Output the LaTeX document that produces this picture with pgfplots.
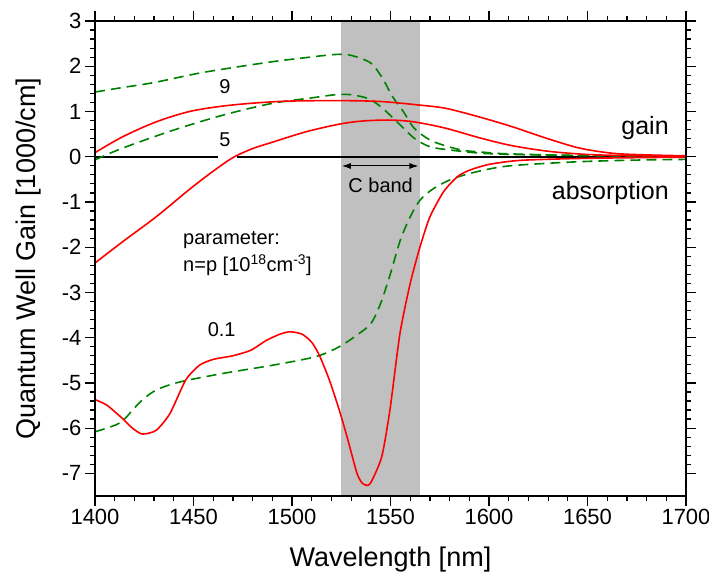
\documentclass[border=0pt]{standalone}
\usepackage{fontspec}
\setmainfont{Liberation Sans}
\usepackage{pgfplots}
\pgfplotsset{compat=1.18}
\usetikzlibrary{arrows.meta}
\definecolor{cband}{RGB}{192,192,192}
\definecolor{dgreen}{RGB}{0,128,0}
\newcommand\ann{\fontsize{20}{24}\selectfont}
\begin{document}
\begin{tikzpicture}
\begin{axis}[
 name=ax,
 scale only axis, width=591pt, height=475pt,
 xmin=1400, xmax=1700, ymin=-7.5, ymax=3,
 xtick={1400,1450,...,1700}, ytick={-7,-6,...,3},
 minor x tick num=4, minor y tick num=4,
 tick align=outside, tick pos=both,
 major tick length=10pt, minor tick length=5pt,
 tick style={black, line width=1.2pt},
 axis line style={line width=1.5pt},
 axis on top,
 /pgf/number format/assume math mode=true,
 /pgf/number format/1000 sep={},
 ticklabel style={font=\fontsize{22}{26}\selectfont},
 label style={font=\fontsize{27}{32}\selectfont},
 xlabel={Wavelength [nm]}, ylabel={Quantum Well Gain [1000/cm]},
 xlabel style={at={(axis description cs:0.5,-0.149)}, anchor=base},
 ylabel style={at={(axis description cs:-0.1015,0.5)}, anchor=base},
]
% C band shading
\addplot[draw=none, fill=cband] coordinates {(1525,-7.5) (1525,3) (1565,3) (1565,-7.5)} -- cycle;
% zero line
\addplot[black, line width=2pt] coordinates {(1400,0) (1700,0)};
% white gap behind the label 5
\addplot[draw=none, fill=white] coordinates {(1462.4,-0.06) (1462.4,0.06) (1472,0.06) (1472,-0.06)} -- cycle;
% arrow
\addplot[black, line width=1pt, {Latex[length=9pt,width=6pt]}-{Latex[length=9pt,width=6pt]}] coordinates {(1525.3,-0.205) (1564.2,-0.205)};
\node[font=\ann, anchor=base] at (axis cs:1466,0.22) {5};
\node[font=\ann] at (axis cs:1466,1.55) {9};
\node[font=\ann] at (axis cs:1464.3,-3.82) {0.1};
\node[font=\ann] at (axis cs:1545,-0.63) {C band};
\node[font=\ann, anchor=base west] at (axis cs:1443,-1.93) {parameter:};
\node[font=\ann, anchor=base west] at (axis cs:1443,-2.54) {n=p [10\textsuperscript{18}cm\textsuperscript{-3}]};
\node[font=\fontsize{25}{30}\selectfont, anchor=east] at (axis cs:1693,0.63) {gain};
\node[font=\fontsize{25}{30}\selectfont, anchor=east] at (axis cs:1693,-0.81) {absorption};
% green dashed
\addplot[dgreen, line width=1.6pt, dash pattern=on 10pt off 6pt, smooth, tension=0.5] coordinates {
(1400,1.43) (1414,1.53) (1430,1.64) (1452,1.84) (1470,1.97) (1490,2.10) (1505,2.18) (1522,2.26) (1530,2.24) (1540,2.07) (1546,1.73) (1551,1.33) (1556.5,1.0) (1562,0.63) (1570,0.37) (1578,0.24) (1587,0.14) (1597,0.10) (1606,0.07) (1630,0.04) (1660,0.02) (1700,0.01)};
\addplot[dgreen, line width=1.6pt, dash pattern=on 10pt off 6pt, smooth, tension=0.5] coordinates {
(1400,-0.07) (1414,0.19) (1440,0.59) (1465,0.92) (1490,1.18) (1510,1.30) (1522,1.37) (1530,1.37) (1539,1.28) (1546,1.07) (1555,0.70) (1562,0.41) (1570,0.22) (1580,0.15) (1595,0.08) (1612,0.05) (1640,0.03) (1700,0.01)};
\addplot[dgreen, line width=1.6pt, dash pattern=on 10pt off 6pt, smooth, tension=0.5] coordinates {
(1400,-6.08) (1408,-5.97) (1414,-5.84) (1423,-5.42) (1431,-5.16) (1443,-4.98) (1465,-4.79) (1490,-4.61) (1512,-4.42) (1524,-4.20) (1533,-3.94) (1540,-3.69) (1545,-3.24) (1550,-2.58) (1555,-1.84) (1560,-1.33) (1565,-0.96) (1572,-0.70) (1582,-0.48) (1595,-0.32) (1611,-0.20) (1646,-0.11) (1680,-0.07) (1700,-0.06)};
% red solid
\addplot[red, line width=1.6pt, smooth, tension=0.5] coordinates {
(1400,0.09) (1414,0.44) (1431,0.77) (1448,1.0) (1465,1.12) (1482,1.19) (1499,1.23) (1524,1.24) (1545,1.22) (1565,1.14) (1578,1.07) (1595,0.88) (1612,0.66) (1629,0.41) (1646,0.19) (1663,0.075) (1680,0.04) (1700,0.02)};
\addplot[red, line width=1.6pt, smooth, tension=0.5] coordinates {
(1400,-2.35) (1414,-1.88) (1431,-1.33) (1448,-0.72) (1460,-0.32) (1470,-0.02) (1480,0.18) (1490,0.32) (1507,0.55) (1524,0.72) (1536,0.79) (1550,0.81) (1562,0.77) (1578,0.63) (1595,0.42) (1611,0.25) (1629,0.126) (1646,0.06) (1663,0.03) (1700,0.01)};
\addplot[red, line width=1.6pt, smooth, tension=0.4] coordinates {
(1400,-5.37) (1406,-5.49) (1414,-5.79) (1419,-6.0) (1424,-6.13) (1431,-6.05) (1438,-5.68) (1446,-4.94) (1453,-4.61) (1460,-4.48) (1470,-4.40) (1479,-4.28) (1487,-4.06) (1494,-3.92) (1499,-3.87) (1505,-3.92) (1510,-4.10) (1514,-4.40) (1519,-4.94) (1524,-5.60) (1528,-6.20) (1533,-7.0) (1536,-7.23) (1539.6,-7.23) (1545.5,-6.64) (1549.7,-5.60) (1554.8,-3.91) (1560,-2.80) (1565,-1.99) (1570,-1.33) (1577,-0.77) (1584,-0.44) (1590,-0.30) (1600,-0.17) (1616,-0.08) (1650,-0.035) (1700,-0.01)};
\end{axis}
\pgfresetboundingbox
\path[use as bounding box] ([xshift=-95pt,yshift=-84pt]ax.south west) rectangle ([xshift=23pt,yshift=21pt]ax.north east);
\end{tikzpicture}
\end{document}
